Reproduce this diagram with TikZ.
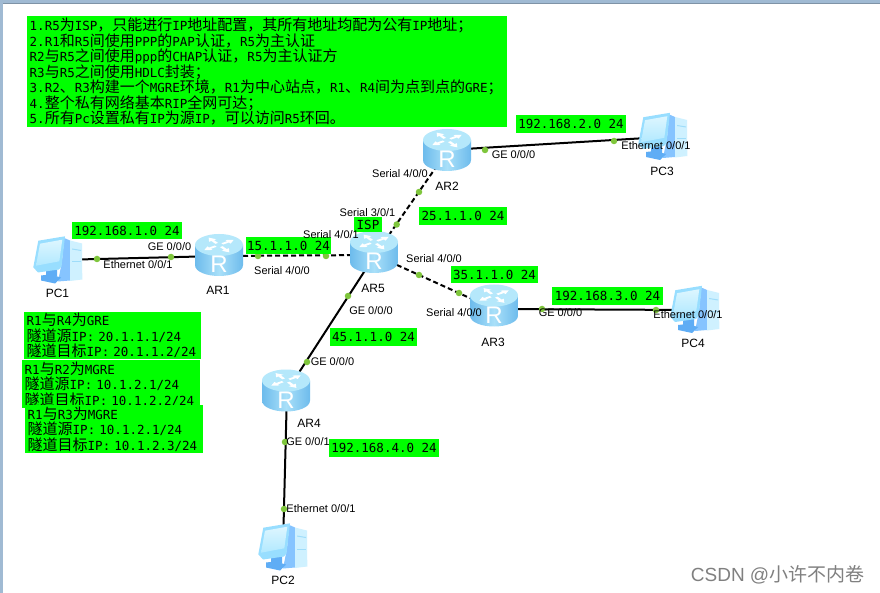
\documentclass[tikz,border=0pt]{standalone}
\usepackage{fontspec}
\setmainfont{Liberation Sans}
\setmonofont{DejaVu Sans Mono}
\newfontfamily\zhfont{Noto Sans CJK SC}
\newcommand{\zh}[1]{{\zhfont\fontsize{15}{15}\selectfont #1}}
\definecolor{gbox}{HTML}{00FF00}
\definecolor{portc}{HTML}{7FC63C}
\definecolor{frameblue}{HTML}{A0BAD3}
\definecolor{framedark}{HTML}{7F93A6}
\definecolor{rbody}{HTML}{8DD2F6}
\definecolor{rside}{HTML}{6DBBEC}
\definecolor{rmid}{HTML}{A9E0F9}
\definecolor{rtop}{HTML}{B5E8FB}
\definecolor{pcframe}{HTML}{98DEFF}
\definecolor{pcscreenA}{HTML}{DDF6FF}
\definecolor{pcscreenB}{HTML}{B2E9FF}
\definecolor{pctower}{HTML}{CFF1FF}
\definecolor{pcside}{HTML}{86C4FF}
\definecolor{pcstand}{HTML}{5FADF5}
\definecolor{pcslot}{HTML}{9FDDFA}
\tikzset{
  x=1pt,y=-1pt,
  anchorbox/.style={inner sep=0pt,outer sep=0pt,minimum width=#1,minimum height=40pt},
  serial/.style={line width=2pt,dash pattern=on 5pt off 3pt},
  ether/.style={line width=2pt},
  portdot/.style={circle,fill=portc,inner sep=0pt,minimum size=6.5pt},
  glabel/.style={fill=gbox,inner sep=0pt,font=\ttfamily\fontsize{12.5}{14}\selectfont},
  gblock/.style={fill=gbox,inner xsep=2.5pt,inner ysep=0pt,anchor=north west,align=left,
     font=\ttfamily\fontsize{12.5}{15.5}\selectfont},
  port/.style={inner sep=0pt,font=\fontsize{11}{13}\selectfont,text=black},
  devname/.style={inner sep=0pt,font=\fontsize{12}{14}\selectfont,text=black},
  routericon/.pic={
    \shade[left color=rside,right color=rside,middle color=rmid]
      (-24,-10) -- (-24,10) .. controls (-24,17) and (-12,21) .. (0,21)
      .. controls (12,21) and (24,17) .. (24,10) -- (24,-10) -- cycle;
    \fill[rtop] (0,-10) ellipse [x radius=24,y radius=11];
    \foreach \a in {35,125,215,305}{
      \begin{scope}[shift={(0,-10)},yscale=0.5,rotate=\a]
        \fill[white] (4,-1.6) -- (11,-1.6) -- (11,-4.4) -- (18,0) -- (11,4.4) -- (11,1.6) -- (4,1.6) -- cycle;
      \end{scope}
    }
    \node[inner sep=0pt,text=white,font=\fontsize{24}{24}\selectfont] (-r) at (0,9.5) {R};
  },
  pcicon/.pic={
    \fill[pcside] (6.3,-21.5) -- (12,-19) -- (12,21) -- (0,22) -- (4,2) -- cycle;
    \fill[pctower] (12,-19) -- (24,-16) -- (24.3,20) -- (12,21.5) -- cycle;
    \fill[pcslot] (14,-11) -- (23,-9.5) -- (23,-8.5) -- (14,-10) -- cycle;
    \fill[pcslot] (14,2) -- (23,2) -- (23,3) -- (14,3) -- cycle;
    \fill[pcstand] (-12,11) -- (-1,9) -- (-1,17) -- (-12,18) -- cycle;
    \fill[pcstand] (-17,16) -- (-8,15) -- (3,18) -- (-3,24) -- (-17,21) -- cycle;
    \fill[pcframe] (-19.7,-18.8) -- (7,-23.2) -- (3.5,7) -- (1,10) -- (-20,13) -- (-24.7,7.8) -- cycle;
    \shade[top color=pcscreenA,bottom color=pcscreenB] (-18,-15.8) -- (4.3,-19.8) -- (1.3,1.8) -- (-22,6.2) -- cycle;
  }
}
\begin{document}
\begin{tikzpicture}
\useasboundingbox (0,0) rectangle (880,593);
\fill[white] (0,0) rectangle (880,593);
\fill[frameblue] (0,0) rectangle (880,3);
\fill[framedark] (0,3) rectangle (880,3.7);
\fill[frameblue] (0,0) rectangle (2.6,593);

% anchors of the devices
\node[anchorbox=48pt] (AR1) at (219,256) {};
\node[anchorbox=48pt] (AR2) at (448,150) {};
\node[anchorbox=48pt] (AR3) at (494,309) {};
\node[anchorbox=48pt] (AR4) at (287,391) {};
\node[anchorbox=48pt] (AR5) at (375,255) {};
\node[anchorbox=50pt] (PC1) at (58,260) {};
\node[anchorbox=50pt] (PC2) at (283,546) {};
\node[anchorbox=50pt] (PC3) at (663,137) {};
\node[anchorbox=50pt] (PC4) at (695,310) {};

% connectors
\draw[ether] (PC1.center) -- (AR1.center);
\draw[serial] (AR1.center) -- (AR5.center);
\draw[serial] (AR5.center) -- (AR2.center);
\draw[serial] (AR5.center) -- (AR3.center);
\draw[ether] (AR5.center) -- (AR4.center);
\draw[ether] (AR4.center) -- (PC2.center);
\draw[ether] (AR2.center) -- (PC3.center);
\draw[ether] (AR3.center) -- (PC4.center);

% port dots
\node[portdot] (d1) at (97,259) {};
\node[portdot] (d2) at (171,257) {};
\node[portdot] (d3) at (258,256) {};
\node[portdot] (d4) at (326,256) {};
\node[portdot] (d5) at (396.7,224.5) {};
\node[portdot] (d6) at (419,192) {};
\node[portdot] (d7) at (419,275) {};
\node[portdot] (d8) at (459,293) {};
\node[portdot] (d9) at (348,296) {};
\node[portdot] (d10) at (307,362) {};
\node[portdot] (d11) at (285,442) {};
\node[portdot] (d12) at (284,509) {};
\node[portdot] (d13) at (485,150) {};
\node[portdot] (d14) at (614,141) {};
\node[portdot] (d15) at (542,309) {};
\node[portdot] (d16) at (656,310) {};

% icons
\pic (iAR1) at (219,255) {routericon};
\pic (iAR2) at (447,150) {routericon};
\pic (iAR3) at (494,305.5) {routericon};
\pic (iAR4) at (286,390.5) {routericon};
\pic (iAR5) at (374,252) {routericon};
\pic at (58,259.5) {pcicon};
\pic at (283,546.5) {pcicon};
\pic at (663,136) {pcicon};
\pic at (695,309) {pcicon};

% green text blocks
\node[gblock,text width=475pt,minimum height=111pt] (notes) at (27,16) {%
1.R5\zh{为}ISP\zh{，只能进行}IP\zh{地址配置，其所有地址均配为公有}IP\zh{地址；}\\
2.R1\zh{和}R5\zh{间使用}PPP\zh{的}PAP\zh{认证，}R5\zh{为主认证}\\
R2\zh{与}R5\zh{之间使用}ppp\zh{的}CHAP\zh{认证，}R5\zh{为主认证方}\\
R3\zh{与}R5\zh{之间使用}HDLC\zh{封装；}\\
3.R2\zh{、}R3\zh{构建一个}MGRE\zh{环境，}R1\zh{为中心站点，}R1\zh{、}R4\zh{间为点到点的}GRE\zh{；}\\
4.\zh{整个私有网络基本}RIP\zh{全网可达；}\\
5.\zh{所有}Pc\zh{设置私有}IP\zh{为源}IP\zh{，可以访问}R5\zh{环回。}};
\node[gblock,text width=172pt,minimum height=47pt] (tun14) at (24,312) {%
R1\zh{与}R4\zh{为}GRE\\
\zh{隧道源}IP: 20.1.1.1/24\\
\zh{隧道目标}IP: 20.1.1.2/24};
\node[gblock,text width=173pt,minimum height=48pt] (tun12) at (22,360) {%
R1\zh{与}R2\zh{为}MGRE\\
\zh{隧道源}IP: 10.1.2.1/24\\
\zh{隧道目标}IP: 10.1.2.2/24};
\node[gblock,text width=173pt,minimum height=48pt] (tun13) at (25,405) {%
R1\zh{与}R3\zh{为}MGRE\\
\zh{隧道源}IP: 10.1.2.1/24\\
\zh{隧道目标}IP: 10.1.2.3/24};

% green subnet labels
\node[glabel,minimum width=110pt,minimum height=17pt] (n1) at (127,230.5) {192.168.1.0 24};
\node[glabel,minimum width=85pt,minimum height=17pt] (n2) at (288.5,245.5) {15.1.1.0 24};
\node[glabel,minimum width=28pt,minimum height=15pt] (n3) at (368,224.5) {ISP};
\node[glabel,minimum width=88pt,minimum height=18pt] (n4) at (463,216) {25.1.1.0 24};
\node[glabel,minimum width=87pt,minimum height=17pt] (n5) at (494.5,274.5) {35.1.1.0 24};
\node[glabel,minimum width=111pt,minimum height=18pt] (n6) at (607.5,296) {192.168.3.0 24};
\node[glabel,minimum width=110pt,minimum height=18pt] (n7) at (571,124) {192.168.2.0 24};
\node[glabel,minimum width=87pt,minimum height=18pt] (n8) at (373.5,337) {45.1.1.0 24};
\node[glabel,minimum width=110pt,minimum height=18pt] (n9) at (384,448) {192.168.4.0 24};

% interface labels
\node[port] (p1) at (169.5,247) {GE 0/0/0};
\node[port] (p2) at (138,265) {Ethernet 0/0/1};
\node[port] (p3) at (282,271) {Serial 4/0/0};
\node[port] (p4) at (331,235) {Serial 4/0/1};
\node[port] (p5) at (367.5,213) {Serial 3/0/1};
\node[port] (p6) at (434,259) {Serial 4/0/0};
\node[port] (p7) at (454,313) {Serial 4/0/0};
\node[port] (p8) at (560.5,313) {GE 0/0/0};
\node[port] (p9) at (688,315) {Ethernet 0/0/1};
\node[port] (p10) at (513.5,155) {GE 0/0/0};
\node[port] (p11) at (656,146) {Ethernet 0/0/1};
\node[port] (p12) at (400,174) {Serial 4/0/0};
\node[port] (p13) at (371,311) {GE 0/0/0};
\node[port] (p14) at (332.5,362) {GE 0/0/0};
\node[port] (p15) at (308,442) {GE 0/0/1};
\node[port] (p16) at (321,509) {Ethernet 0/0/1};

% device names
\node[devname] (t1) at (218,290) {AR1};
\node[devname] (t2) at (447,186) {AR2};
\node[devname] (t3) at (493,342) {AR3};
\node[devname] (t4) at (309,423) {AR4};
\node[devname] (t5) at (373,288) {AR5};
\node[devname] (t6) at (57.5,293) {PC1};
\node[devname] (t7) at (283,580) {PC2};
\node[devname] (t8) at (662,171) {PC3};
\node[devname] (t9) at (693,343) {PC4};

% watermark
\node[inner sep=0pt,anchor=east,text=black!50,font=\fontsize{19}{20}\selectfont] (wm) at (864.5,574.5) {CSDN @{\zhfont\fontsize{19}{20}\selectfont 小许不内卷}};
\end{tikzpicture}
\end{document}
